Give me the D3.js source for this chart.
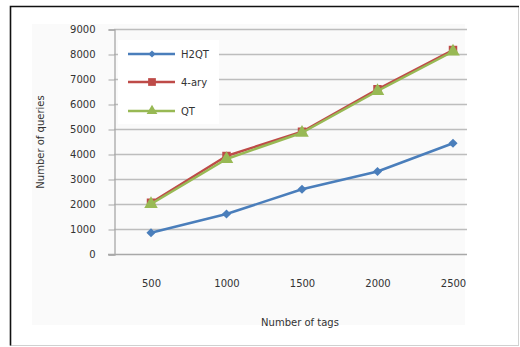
<!DOCTYPE html>
<html><head><meta charset="utf-8">
<script src="https://cdn.jsdelivr.net/npm/d3@7"></script>
<style>
html,body{margin:0;padding:0;background:#fff;}
svg{display:block;}
text{font-family:"DejaVu Sans",Verdana,sans-serif;fill:#333;}
</style></head>
<body>
<svg id="c" width="520" height="347"></svg>
<script>
const categories = [500, 1000, 1500, 2000, 2500];
const h2qt = [850, 1600, 2590, 3300, 4430];
const ary4 = [2050, 3920, 4890, 6590, 8160];
const qt = [2000, 3800, 4850, 6520, 8100];
const yTicks = [0, 1000, 2000, 3000, 4000, 5000, 6000, 7000, 8000, 9000];
const seriesNames = ["H2QT", "4-ary", "QT"];
const seriesColors = ["#4A7EBB", "#BE4B48", "#98B954"];
const seriesShapes = [d3.symbolSquare, d3.symbolSquare, d3.symbolTriangle];
const seriesRot = [45, 0, 0];

const svg = d3.select("#c");
// outer frame
svg.append("rect").attr("x",10.5).attr("y",6.5).attr("width",508).attr("height",339)
  .attr("fill","#fff").attr("stroke","#d0d0d0").attr("stroke-width",1);
svg.append("path").attr("d","M10.5,345.5 V6.5 H519").attr("fill","none").attr("stroke","#111").attr("stroke-width",1.6);
// faint inner panel
svg.append("rect").attr("x",32).attr("y",24).attr("width",433).attr("height",301).attr("fill","#fafafa");

const x = d3.scalePoint().domain(categories).range([151, 453]);
const y = d3.scaleLinear().domain([0, 9000]).range([254, 29]);
const xLeft = 114, xRight = 467;

// gridlines
svg.append("g").selectAll("line").data(yTicks.filter(d=>d>0)).join("line")
  .attr("x1", xLeft).attr("x2", xRight).attr("y1", d=>y(d)+0.5).attr("y2", d=>y(d)+0.5)
  .attr("stroke","#bdbdbd").attr("stroke-width",1.3);

// y axis
const yAxis = d3.axisLeft(y).tickValues(yTicks).tickSize(6).tickPadding(13).tickFormat(d3.format("d"));
const gy = svg.append("g").attr("transform",`translate(${xLeft+0.5},0.5)`).call(yAxis);
gy.select(".domain").attr("stroke","#a8a8a8").attr("stroke-width",1.3);
gy.selectAll(".tick line").attr("stroke","#a8a8a8");
gy.selectAll("text").style("font-size","10px").attr("fill","#333");

// x axis line (bottom)
svg.append("line").attr("x1",xLeft-6).attr("x2",xRight).attr("y1",y(0)+0.5).attr("y2",y(0)+0.5)
  .attr("stroke","#a8a8a8").attr("stroke-width",1.3);

// x labels
const xAxis = d3.axisBottom(x).tickSize(0).tickPadding(0);
const gx = svg.append("g").attr("transform","translate(0,280)").call(xAxis);
gx.select(".domain").remove();
gx.selectAll("text").style("font-size","10px").attr("fill","#333");

// axis titles
svg.append("text").attr("x",300).attr("y",326).attr("text-anchor","middle").style("font-size","10px").text("Number of tags");
svg.append("text").attr("transform","translate(44,142) rotate(-90)").attr("text-anchor","middle").style("font-size","10px").text("Number of queries");

// legend background
svg.append("rect").attr("x",118).attr("y",40).attr("width",101).attr("height",84).attr("fill","#fff");

const data = [h2qt, ary4, qt];
const line = d3.line().x((d,i)=>x(categories[i])).y(d=>y(d));
const symSizes = [42, 72, 80];
data.forEach((vals, s) => {
  svg.append("path").datum(vals).attr("d", line).attr("fill","none")
    .attr("stroke", seriesColors[s]).attr("stroke-width", 2.5).attr("stroke-linejoin","round");
  svg.append("g").selectAll("path").data(vals).join("path")
    .attr("transform",(d,i)=>`translate(${x(categories[i])},${y(d)}) rotate(${seriesRot[s]})`)
    .attr("d", d3.symbol().type(seriesShapes[s]).size(symSizes[s]))
    .attr("fill", seriesColors[s]);
});

// legend
const legY = [54, 82, 111];
const legSizes = [26, 60, 50];
seriesNames.forEach((n, s) => {
  const g = svg.append("g").attr("transform",`translate(0,${legY[s]})`);
  g.append("line").attr("x1",128).attr("x2",175).attr("y1",0).attr("y2",0)
    .attr("stroke",seriesColors[s]).attr("stroke-width",2.5);
  g.append("path").attr("transform",`translate(152,0) rotate(${seriesRot[s]})`)
    .attr("d", d3.symbol().type(seriesShapes[s]).size(legSizes[s])).attr("fill",seriesColors[s]);
  g.append("text").attr("x",181).attr("y",3.5).style("font-size","10px").text(n);
});
</script>
</body></html>
